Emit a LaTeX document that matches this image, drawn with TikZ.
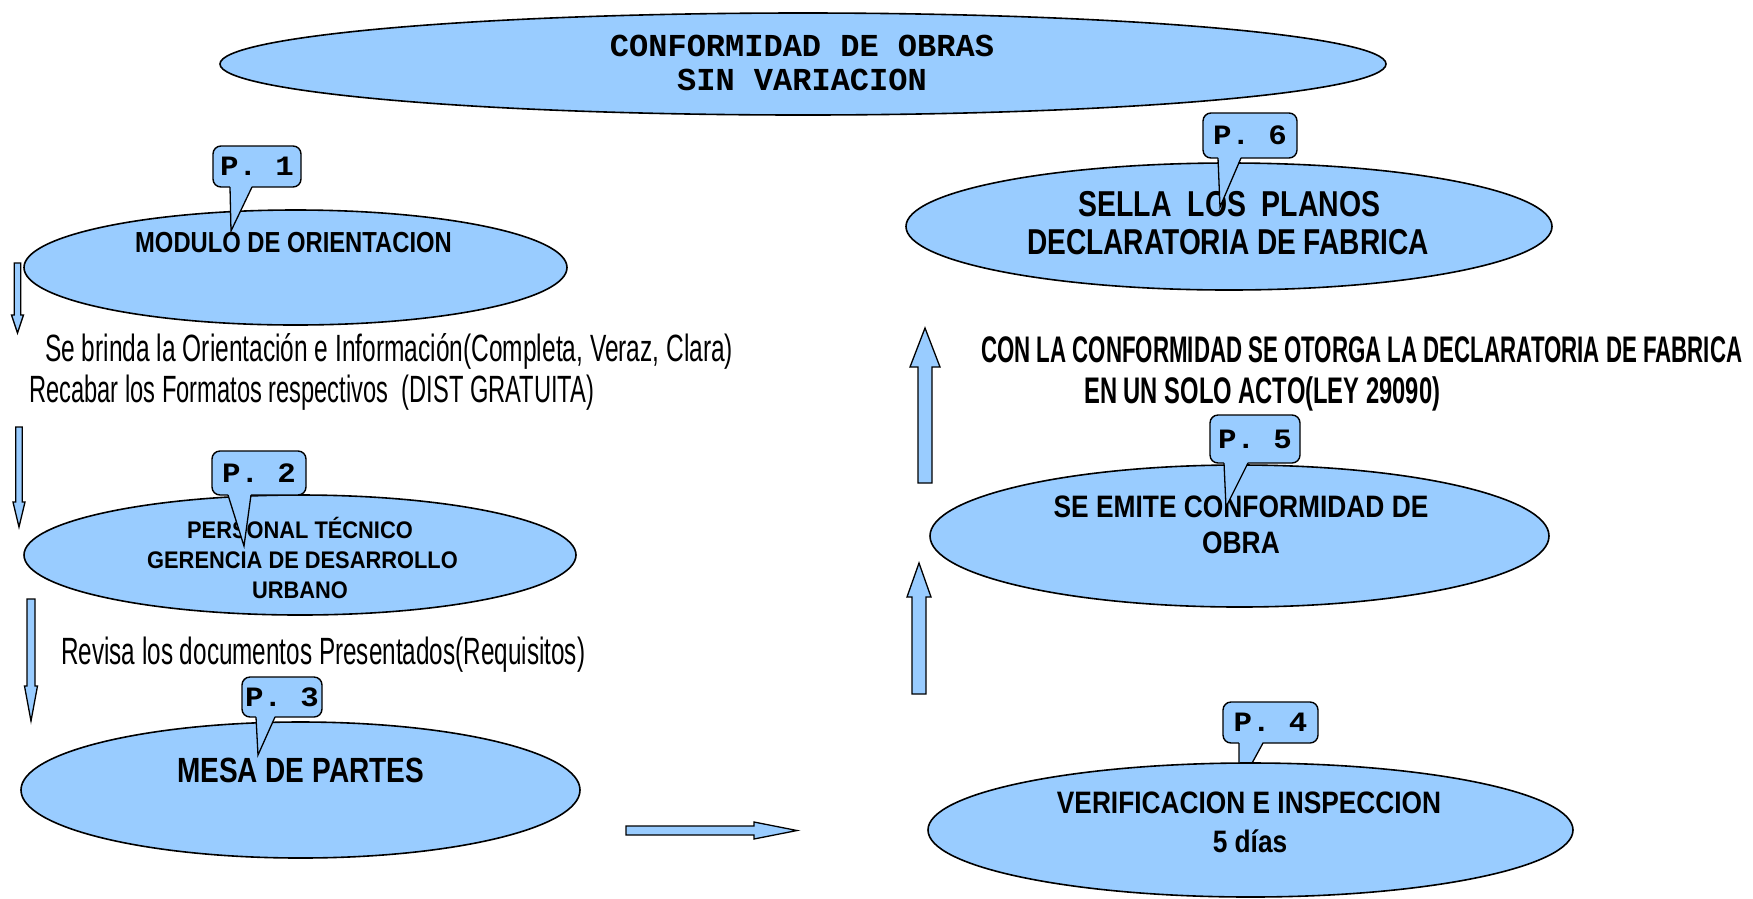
\documentclass[tikz,border=0pt]{standalone}
\usepackage{fontspec}
\usepackage{graphicx}
\usetikzlibrary{shapes.geometric}
\newfontfamily\sansf{Liberation Sans}
\newfontfamily\monof{Liberation Mono}
\definecolor{lblue}{RGB}{153,204,255}
\newcommand\hs[2]{\scalebox{#1}[1]{#2}}
\newcommand\fs[1]{\fontsize{#1}{#1}\selectfont}
% vertical block arrow: cx, start y, head-base y, tip y, shaft half, head half
\newcommand\varrow[6]{\draw[blk] ({#1-#5},#2) -- ({#1+#5},#2) -- ({#1+#5},#3) -- ({#1+#6},#3) -- (#1,#4) -- ({#1-#6},#3) -- ({#1-#5},#3) -- cycle;}
% horizontal block arrow: cy, start x, head-base x, tip x, shaft half, head half
\newcommand\harrow[6]{\draw[blk] (#2,{#1-#5}) -- (#3,{#1-#5}) -- (#3,{#1-#6}) -- (#4,#1) -- (#3,{#1+#6}) -- (#3,{#1+#5}) -- (#2,{#1+#5}) -- cycle;}
% callout: name, cx, cy, w, h, label, base-left x, base-right x, tip coordinate
\newcommand\callout[9]{%
  \node[cbox, minimum width=#4pt, minimum height=#5pt] (#1) at (#2,#3) {\monof\bfseries\fs{28}\hs{1.1}{#6}};
  \pgfmathsetmacro\yb{#3+#5/2}
  \fill[lblue] (#7,{\yb-1.3}) -- #9 -- (#8,{\yb-1.3}) -- cycle;
  \draw[tail] (#7,\yb) -- #9 -- (#8,\yb);
}
\begin{document}
\begin{tikzpicture}[x=1pt,y=-1pt,
  ell/.style={ellipse, draw, line width=1.6pt, fill=lblue, inner sep=0},
  lbl/.style={anchor=base, inner sep=0},
  lblw/.style={anchor=base west, inner sep=0},
  cbox/.style={draw, line width=1.4pt, fill=lblue, rounded corners=8pt, inner sep=0},
  tail/.style={line width=1.3pt, line join=miter},
  blk/.style={draw, line width=1.3pt, fill=lblue, line join=miter}]
\useasboundingbox (0,0) rectangle (1753,898);
\fill[white] (0,0) rectangle (1753,898);

% title
\node[ell, minimum width=1166pt, minimum height=102pt] (title) at (803,64) {};
\node[lbl] (tt1) at (802,56) {\monof\bfseries\fs{32}CONFORMIDAD DE OBRAS};
\node[lbl] (tt2) at (802,90) {\monof\bfseries\fs{32}SIN VARIACION};

% ellipses
\node[ell, minimum width=543pt, minimum height=115pt] (e1) at (295.5,267.5) {};
\node[ell, minimum width=552pt, minimum height=120pt] (e2) at (300,555) {};
\node[ell, minimum width=559pt, minimum height=136pt] (e3) at (300.5,790) {};
\node[ell, minimum width=646pt, minimum height=127pt] (e6) at (1229,226.5) {};
\node[ell, minimum width=619pt, minimum height=142pt] (e5) at (1239.5,536) {};

% ellipse texts
\node[lbl] (t1) at (293.5,252) {\sansf\bfseries\fs{29}\hs{0.82}{MODULO DE ORIENTACION}};
\node[lbl] (t2a) at (300,538) {\sansf\bfseries\fs{24}\hs{0.91}{PERSONAL TÉCNICO}};
\node[lbl] (t2b) at (302.5,568) {\sansf\bfseries\fs{24}\hs{0.91}{GERENCIA DE DESARROLLO}};
\node[lbl] (t2c) at (300,598) {\sansf\bfseries\fs{24}\hs{0.91}{URBANO}};
\node[lbl] (t3) at (300.5,782) {\sansf\bfseries\fs{35}\hs{0.80}{MESA DE PARTES}};
\node[lbl] (t6a) at (1229.5,216) {\sansf\bfseries\fs{36}\hs{0.79}{SELLA\ \ LOS\ \ PLANOS}};
\node[lbl] (t6b) at (1228,254) {\sansf\bfseries\fs{36}\hs{0.78}{DECLARATORIA DE FABRICA}};
\node[lbl] (t5a) at (1241,517) {\sansf\bfseries\fs{31}\hs{0.85}{SE EMITE CONFORMIDAD DE}};
\node[lbl] (t5b) at (1241,553) {\sansf\bfseries\fs{31}\hs{0.85}{OBRA}};

% callouts
\callout{c1}{257}{166.5}{88}{41}{P. 1}{230}{252}{(231,231)}
\callout{c2}{259}{473}{94}{44}{P. 2}{228}{251}{(244,546)}
\callout{c3}{282}{697}{80}{40}{P. 3}{256}{275}{(258,755)}
\callout{c6}{1250}{135.5}{94}{45}{P. 6}{1218}{1241}{(1220,207)}
\callout{c5}{1255}{439}{90}{48}{P. 5}{1224}{1248}{(1226,507)}
\callout{c4}{1270.5}{722.5}{95}{41}{P. 4}{1239}{1263}{(1239,787)}

\node[ell, minimum width=645pt, minimum height=134pt] (e4) at (1250.5,830) {};
\node[lbl] (t4a) at (1249,813) {\sansf\bfseries\fs{31}\hs{0.848}{VERIFICACION E INSPECCION}};
\node[lbl] (t4b) at (1250,852) {\sansf\bfseries\fs{31}\hs{0.848}{5 días}};

% block arrows
\varrow{17.5}{263}{315}{333}{3.3}{6}
\varrow{19}{427}{502}{527}{3.3}{6}
\varrow{31}{599}{686}{721}{4}{6.5}
\harrow{830.5}{626}{754}{797}{4.5}{8.5}
\varrow{925}{483}{367}{328}{7}{15}
\varrow{919}{694}{597}{563}{7}{12}

% free texts
\node[lblw] (l1) at (45,361) {\sansf\fs{38}\resizebox{688pt}{\height}{Se brinda la Orientación e Información(Completa, Veraz, Clara)}};
\node[lblw] (l2) at (29,402) {\sansf\fs{38}\resizebox{565pt}{\height}{Recabar los Formatos respectivos\ \ (DIST GRATUITA)}};
\node[lblw] (l3) at (61,664) {\sansf\fs{38}\resizebox{524pt}{\height}{Revisa los documentos Presentados(Requisitos)}};
\node[lblw] (b1) at (981,362) {\sansf\bfseries\fs{37}\resizebox{761pt}{\height}{CON LA CONFORMIDAD SE OTORGA LA DECLARATORIA DE FABRICA}};
\node[lblw] (b2) at (1084,403) {\sansf\bfseries\fs{37}\resizebox{356pt}{\height}{EN UN SOLO ACTO(LEY 29090)}};
\end{tikzpicture}
\end{document}
